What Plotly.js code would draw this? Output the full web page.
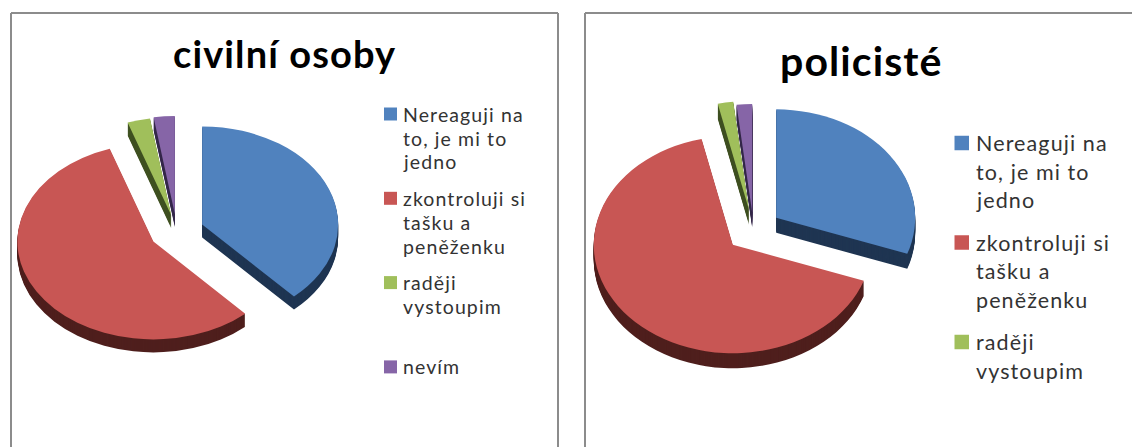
<!DOCTYPE html>
<html>
<head>
<meta charset="utf-8">
<script src="https://cdn.plot.ly/plotly-3.0.1.min.js"></script>
<style>html,body{margin:0;padding:0;background:#fff;overflow:hidden}
.annotation-text{letter-spacing:1.1px}</style>
</head>
<body>
<div id="chart" style="width:1132px;height:447px"></div>
<script>
const W = 1132, H = 447;
const categories = ["Nereaguji na to, je mi to jedno", "zkontroluji si tašku a peněženku", "raději vystoupim", "nevím"];
const civilianValues = [38.2, 56.6, 2.7, 2.5];
const policeValues = [30.4, 66.0, 1.8, 1.8];
const civilianPull = [0.2, 0.2, 0.17, 0.18];
const policePull = [0.2, 0.2, 0.195, 0.165];
const topColors = ["#5082be", "#c85654", "#a0bf5b", "#8665a7"];
const sideColors = ["#1f3552", "#4f1f1d", "#3f5020", "#35284a"];
const civilianLegend = [["Nereaguji na", "to, je mi to", "jedno"], ["zkontroluji si", "tašku a", "peněženku"], ["raději", "vystoupim"], ["nevím"]];
const policeLegend = [["Nereaguji na", "to, je mi to", "jedno"], ["zkontroluji si", "tašku a", "peněženku"], ["raději", "vystoupim"]];

const panels = [
  {title: "civilní osoby", values: civilianValues, pull: civilianPull, cx: 176.8, cy: 231.5, r: 136, tilt: 0.72, depth: 13,
   titleX: 284, titleY: 53, titleSize: 38, legend: civilianLegend,
   swatchX: 384, swatchSize: 13, textX: 401, firstY: 114, itemGap: 84.3, lineGap: 24, fontSize: 19.5},
  {title: "policisté", values: policeValues, pull: policePull, cx: 753.5, cy: 230.3, r: 139, tilt: 0.78, depth: 15,
   titleX: 861, titleY: 60, titleSize: 41, legend: policeLegend,
   swatchX: 954.5, swatchSize: 14.5, textX: 974, firstY: 143, itemGap: 99.5, lineGap: 28.5, fontSize: 21.5}
];

const px = x => x / W, py = y => 1 - y / H;
const traces = [], transforms = [], shapes = [], annotations = [];

function addPie(p, colors, offset) {
  const half = p.r * (1 + Math.max(...p.pull));
  traces.push({
    type: "pie", labels: categories, values: p.values, pull: p.pull, sort: false,
    direction: "clockwise", rotation: 0, textinfo: "none", hoverinfo: "skip", showlegend: false,
    marker: {colors: colors, line: {width: 0}},
    domain: {x: [px(p.cx - half), px(p.cx + half)], y: [py(H / 2 + half), py(H / 2 - half)]}
  });
  transforms.push(`translate(0,${p.cy + offset}) scale(1,${p.tilt}) translate(0,${-H / 2})`);
}

panels.forEach(p => {
  for (let d = p.depth; d >= 1; d--) addPie(p, sideColors, d);
  addPie(p, topColors, 0);
  annotations.push({xref: "paper", yref: "paper", x: px(p.titleX), y: py(p.titleY), xanchor: "center", yanchor: "middle",
    showarrow: false, text: `<b>${p.title}</b>`, font: {family: "Lato, sans-serif", size: p.titleSize, color: "#000"}});
  p.legend.forEach((lines, i) => {
    const y = p.firstY + i * p.itemGap;
    shapes.push({type: "rect", xref: "paper", yref: "paper", x0: px(p.swatchX), x1: px(p.swatchX + p.swatchSize),
      y0: py(y + p.swatchSize / 2), y1: py(y - p.swatchSize / 2), line: {width: 0}, fillcolor: topColors[i]});
    lines.forEach((line, j) => annotations.push({xref: "paper", yref: "paper", x: px(p.textX), y: py(y + j * p.lineGap),
      xanchor: "left", yanchor: "middle", showarrow: false, text: line,
      font: {family: "Lato, sans-serif", size: p.fontSize, color: "#333"}}));
  });
});

const frame = {type: "line", xref: "paper", yref: "paper", line: {color: "#8c8c8c", width: 2}};
[[11, 13, 558, 13], [11, 13, 11, 447], [558, 13, 558, 447], [585, 13, 1132, 13], [585, 13, 585, 447]].forEach(s =>
  shapes.push({...frame, x0: px(s[0]), y0: py(s[1]), x1: px(s[2]), y1: py(s[3])}));

Plotly.newPlot("chart", traces, {
  width: W, height: H, margin: {l: 0, r: 0, t: 0, b: 0}, paper_bgcolor: "#fff", plot_bgcolor: "#fff",
  showlegend: false, shapes: shapes, annotations: annotations
}, {displayModeBar: false, staticPlot: true}).then(gd => {
  gd.querySelectorAll(".pielayer .trace").forEach((g, i) => g.setAttribute("transform", transforms[i]));
});
</script>
</body>
</html>
